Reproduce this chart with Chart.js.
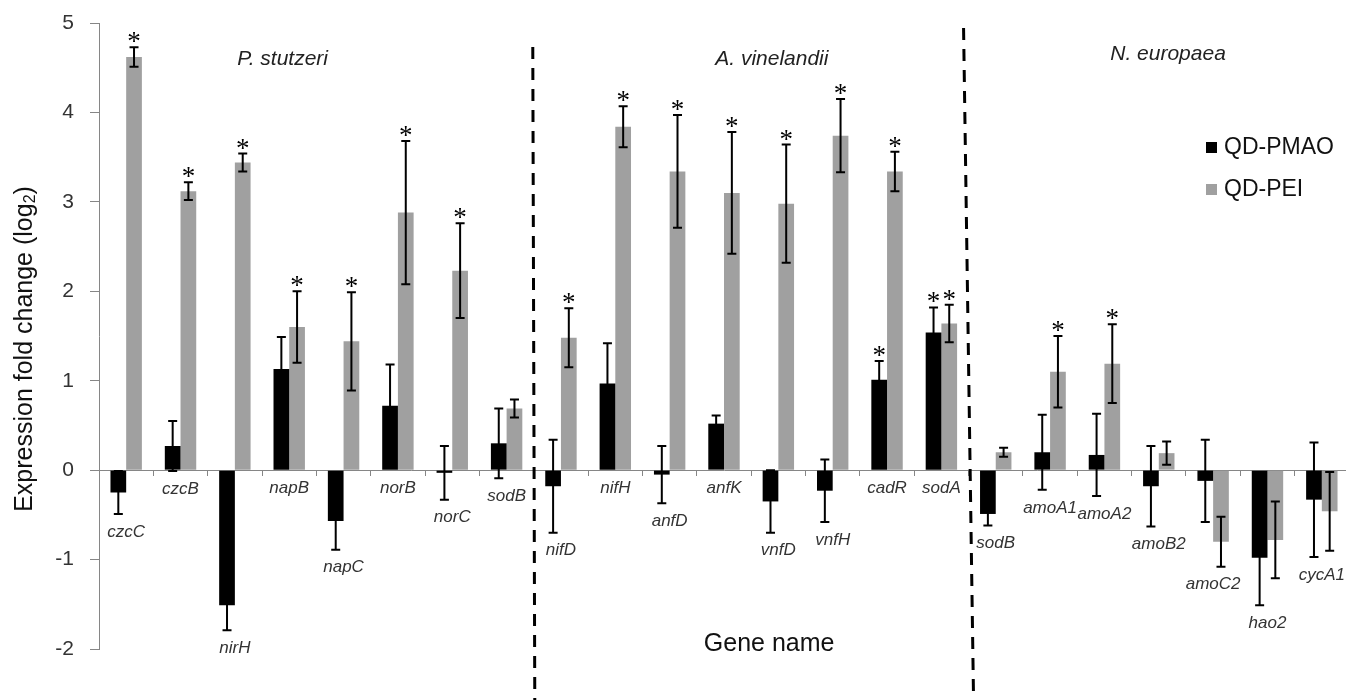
<!DOCTYPE html>
<html>
<head>
<meta charset="utf-8">
<script src="https://cdn.jsdelivr.net/npm/chart.js@4.4.1/dist/chart.umd.min.js"></script>
<style>
  html, body { margin: 0; padding: 0; background: #fff; overflow: hidden; }
  #wrap { position: relative; width: 1350px; height: 700px; }
</style>
</head>
<body>
<div id="wrap"><canvas id="myChart"></canvas></div>
<script>
// Gene names along the x axis
const genes = ['czcC', 'czcB', 'nirH', 'napB', 'napC', 'norB', 'norC', 'sodB',
  'nifD', 'nifH', 'anfD', 'anfK', 'vnfD', 'vnfH', 'cadR', 'sodA',
  'sodB', 'amoA1', 'amoA2', 'amoB2', 'amoC2', 'hao2', 'cycA1'];

// organisms and the index of their first gene
const groupNames = ['P. stutzeri', 'A. vinelandii', 'N. europaea'];
const groupStart = [0, 8, 16];

// log2 fold change, QD-PMAO
const pmao = [-0.25, 0.27, -1.51, 1.13, -0.57, 0.72, -0.03, 0.30,
  -0.18, 0.97, -0.05, 0.52, -0.35, -0.23, 1.01, 1.54,
  -0.49, 0.20, 0.17, -0.18, -0.12, -0.98, -0.33];
const pmaoErr = [0.24, 0.28, 0.28, 0.36, 0.32, 0.46, 0.30, 0.39,
  0.52, 0.45, 0.32, 0.09, 0.35, 0.35, 0.21, 0.28,
  0.13, 0.42, 0.46, 0.45, 0.46, 0.53, 0.64];

// log2 fold change, QD-PEI
const pei = [4.62, 3.12, 3.44, 1.60, 1.44, 2.88, 2.23, 0.69,
  1.48, 3.84, 3.34, 3.10, 2.98, 3.74, 3.34, 1.64,
  0.20, 1.10, 1.19, 0.19, -0.80, -0.78, -0.46];
const peiErr = [0.11, 0.10, 0.10, 0.40, 0.55, 0.80, 0.53, 0.10,
  0.33, 0.23, 0.63, 0.68, 0.66, 0.41, 0.22, 0.21,
  0.05, 0.40, 0.44, 0.13, 0.28, 0.43, 0.44];

// significant changes (*)
const pmaoSig = [0, 0, 0, 0, 0, 0, 0, 0, 0, 0, 0, 0, 0, 0, 1, 1, 0, 0, 0, 0, 0, 0, 0];
const peiSig = [1, 1, 1, 1, 1, 1, 1, 0, 1, 1, 1, 1, 1, 1, 1, 1, 0, 1, 1, 0, 0, 0, 0];

const yMin = -2;
const yMax = 5;

const BLACK = '#000000';
const GRAY = '#a0a0a0';
const AXIS = '#868686';

// draws error bars, stars, gene names, organism names, dashed separators, legend and titles
const extras = {
  id: 'extras',
  afterDatasetsDraw(chart) {
    const ctx = chart.ctx;
    const x = chart.scales.x;
    const y = chart.scales.y;
    const errs = [pmaoErr, peiErr];
    const sigs = [pmaoSig, peiSig];
    ctx.save();

    // error bars + asterisks
    chart.data.datasets.forEach((ds, d) => {
      const meta = chart.getDatasetMeta(d);
      meta.data.forEach((bar, i) => {
        const v = ds.data[i];
        const e = errs[d][i];
        const top = y.getPixelForValue(v + e);
        const bot = y.getPixelForValue(v - e);
        ctx.strokeStyle = '#000';
        ctx.lineWidth = 2;
        ctx.beginPath();
        ctx.moveTo(bar.x, top); ctx.lineTo(bar.x, bot);
        ctx.moveTo(bar.x - 4.5, top); ctx.lineTo(bar.x + 4.5, top);
        ctx.moveTo(bar.x - 4.5, bot); ctx.lineTo(bar.x + 4.5, bot);
        ctx.stroke();
        if (sigs[d][i]) {
          ctx.fillStyle = '#000';
          ctx.font = '27px "Liberation Serif"';
          ctx.textAlign = 'center';
          ctx.textBaseline = 'alphabetic';
          ctx.fillText('*', bar.x, Math.min(top, y.getPixelForValue(v)) + 3);
        }
      });
    });

    // gene names under the lowest mark of each category
    ctx.font = 'italic 17px "Liberation Sans"';
    ctx.fillStyle = '#333';
    ctx.textAlign = 'center';
    ctx.textBaseline = 'middle';
    genes.forEach((g, i) => {
      const low = Math.min(0, pmao[i] - pmaoErr[i], pei[i] - peiErr[i]);
      ctx.fillText(g, x.getPixelForValue(i), y.getPixelForValue(low) + 18);
    });

    // dashed lines between organisms
    ctx.strokeStyle = '#000';
    ctx.lineWidth = 3;
    ctx.setLineDash([12, 9]);
    const lineTop = [47, 28];
    const lean = [1, 5];
    [groupStart[1], groupStart[2]].forEach((g, k) => {
      const bx = (x.getPixelForValue(g - 1) + x.getPixelForValue(g)) / 2;
      ctx.beginPath();
      ctx.moveTo(bx - lean[k], lineTop[k]);
      ctx.lineTo(bx + lean[k], chart.height);
      ctx.stroke();
    });
    ctx.setLineDash([]);

    // organism names
    const titleAt = [2.88, 11.88, 19.17];
    const titleY = [59, 59, 54];
    ctx.font = 'italic 21px "Liberation Sans"';
    ctx.fillStyle = '#222';
    groupNames.forEach((n, k) => {
      ctx.fillText(n, x.getPixelForValue(titleAt[k]), titleY[k]);
    });

    // legend
    ctx.font = '23px "Liberation Sans"';
    ctx.textAlign = 'left';
    chart.data.datasets.forEach((ds, d) => {
      const ly = 148 + d * 42;
      ctx.fillStyle = ds.backgroundColor;
      ctx.fillRect(1206, ly - 6, 11, 11);
      ctx.fillStyle = '#111';
      ctx.fillText(ds.label, 1224, ly);
    });

    // x title
    ctx.font = '25px "Liberation Sans"';
    ctx.textAlign = 'center';
    ctx.fillStyle = '#111';
    ctx.fillText('Gene name', x.getPixelForValue(11.83), 644);

    // y title with subscript
    ctx.translate(25, 349);
    ctx.rotate(-Math.PI / 2);
    const main = 'Expression fold change (log';
    ctx.font = '25px "Liberation Sans"';
    const w1 = ctx.measureText(main).width;
    ctx.font = '16px "Liberation Sans"';
    const w2 = ctx.measureText('2').width;
    ctx.font = '25px "Liberation Sans"';
    const w3 = ctx.measureText(')').width;
    let sx = -(w1 + w2 + w3) / 2;
    ctx.textAlign = 'left';
    ctx.fillText(main, sx, 0);
    sx += w1;
    ctx.font = '16px "Liberation Sans"';
    ctx.fillText('2', sx, 6);
    sx += w2;
    ctx.font = '25px "Liberation Sans"';
    ctx.fillText(')', sx, 0);

    ctx.restore();
  }
};

const data = {
  labels: genes,
  datasets: [
    {
      label: 'QD-PMAO',
      data: pmao,
      backgroundColor: BLACK,
      borderWidth: 0,
    },
    {
      label: 'QD-PEI',
      data: pei,
      backgroundColor: GRAY,
      borderWidth: 0,
    },
  ]
};

const config = {
  type: 'bar',
  data: data,
  options: {
    responsive: true,
    maintainAspectRatio: false,
    animation: false,
    layout: { padding: { left: 54, right: 1, top: 23, bottom: 51 } },
    datasets: { bar: { barPercentage: 1, categoryPercentage: 0.578 } },
    plugins: {
      legend: { display: false },
      tooltip: { enabled: false },
    },
    scales: {
      x: {
        position: { y: 0 },
        afterFit: s => { s.height = 0; },
        border: { color: AXIS, width: 1 },
        grid: { display: true, drawOnChartArea: false, drawTicks: true, tickLength: 5, color: AXIS },
        ticks: { display: false },
      },
      y: {
        min: yMin,
        max: yMax,
        // fixed width; label padding should not push the plot area down
        afterFit: s => { s.width = 45; s.paddingTop = 12; s.paddingBottom = 12; },
        border: { color: AXIS, width: 1 },
        grid: { display: true, drawOnChartArea: false, drawTicks: true, tickLength: 9, color: AXIS },
        ticks: {
          stepSize: 1,
          padding: 16,
          color: '#333',
          font: { family: '"Liberation Sans"', size: 21 },
        },
      }
    }
  },
  plugins: [extras]
};

const myChart = new Chart(
  document.getElementById('myChart'),
  config
);
</script>
</body>
</html>
